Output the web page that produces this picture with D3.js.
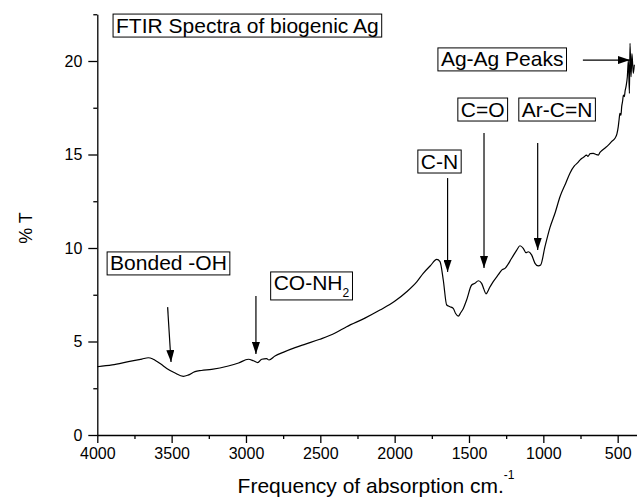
<html>

<head>
    <script src="https://cdnjs.cloudflare.com/ajax/libs/d3/7.8.5/d3.min.js"></script>
    <style>
        body { margin: 0; background: #fff; }
        text { font-family: "Liberation Sans", Arial, sans-serif; fill: #000; }
    </style>
</head>

<body>
    <script>
        // spectrum: wavenumber (cm-1) and %T
        var wavenumber = [4000, 3900, 3791, 3700, 3657, 3630, 3612, 3570, 3533, 3480, 3421, 3390, 3343, 3300, 3231, 3119, 3050,
            2984, 2950, 2921, 2894, 2861, 2845, 2805, 2750, 2670, 2600, 2503, 2400, 2323, 2200, 2099, 2000, 1919, 1850, 1808,
            1760, 1717, 1695, 1673, 1650, 1628, 1606, 1590, 1572, 1555, 1538, 1516, 1482, 1460, 1437, 1415, 1400, 1386, 1360,
            1337, 1300, 1280, 1258, 1213, 1179, 1157, 1135, 1117, 1101, 1079, 1056, 1034, 1018, 989, 955, 920, 888, 850, 821,
            790, 770, 754, 740, 730, 709, 700, 685, 664, 645, 630, 620, 608, 585, 563, 540, 518, 505, 496, 490, 485, 478, 473,
            466, 462, 455, 450, 444, 435, 428, 421, 417, 410, 404, 395, 388];
        var transmittance = [3.65, 3.75, 3.92, 4.06, 4.13, 4.08, 4.0, 3.78, 3.56, 3.33, 3.14, 3.2, 3.39, 3.45, 3.51, 3.69, 3.85,
            4.05, 3.97, 3.87, 4.05, 4.08, 4.01, 4.22, 4.42, 4.67, 4.86, 5.12, 5.45, 5.79, 6.25, 6.68, 7.15, 7.66, 8.2, 8.64,
            9.05, 9.39, 9.27, 8.29, 6.95, 6.86, 6.77, 6.5, 6.36, 6.55, 6.77, 7.22, 8.02, 8.11, 8.25, 8.11, 7.8, 7.55, 7.9,
            8.2, 8.6, 8.82, 8.91, 9.45, 9.89, 10.12, 9.98, 9.75, 9.8, 9.63, 9.18, 9.04, 9.09, 10.07, 11.1, 11.9, 12.74, 13.45, 14.0,
            14.4, 14.55, 14.7, 14.8, 14.85, 14.97, 14.9, 15.05, 15.06, 15.0, 14.97, 15.1, 15.2, 15.35, 15.5, 15.7, 15.87, 16.1, 16.49, 16.9, 17.2, 17.1, 17.56,
            17.9, 18.18, 18.1, 18.4, 18.63, 19.16, 20.05, 18.27, 20.94, 19.16, 20.4, 19.34, 19.8];

        var xTicks = [4000, 3500, 3000, 2500, 2000, 1500, 1000, 500];
        var xMinor = [3750, 3250, 2750, 2250, 1750, 1250, 750];
        var yTicks = [0, 5, 10, 15, 20];
        var yMinor = [2.5, 7.5, 12.5, 17.5, 22.5];

        // labels: left edge / top edge of the box in data units
        var labelText = ["FTIR Spectra of biogenic Ag", "Ag-Ag Peaks", "C=O", "Ar-C=N", "C-N", "Bonded -OH", "CO-NH"];
        var labelSub = ["", "", "", "", "", "", "2"];
        var labelX = [3894, 1709, 1575, 1165, 1844, 3934, 2834];
        var labelY = [22.51, 20.7, 18.02, 18.02, 15.24, 9.79, 8.72];

        // arrows: from (x1,y1) to (x2,y2)
        var arrowX1 = [734, 1644, 1399, 1038, 3527, 2933];
        var arrowY1 = [20.05, 13.74, 16.15, 15.61, 6.84, 7.43];
        var arrowX2 = [417, 1644, 1399, 1038, 3504, 2933];
        var arrowY2 = [20.05, 8.72, 8.93, 9.89, 3.9, 4.33];

        (function () {
            var w = 637, h = 499;
            var mLeft = 97.3, mRight = 637, mTop = 14.25, mBottom = 435;

            var svg = d3.select("body").append("svg")
                .attr("width", w)
                .attr("height", h);

            var x = d3.scaleLinear().domain([4000, 370]).range([mLeft, mRight]);
            var y = d3.scaleLinear().domain([0, 22.5]).range([mBottom, mTop]);

            // axes
            svg.append("g").attr("transform", "translate(0," + mBottom + ")")
                .call(d3.axisBottom(x).tickValues(xTicks).tickFormat(d3.format("d"))
                    .tickSize(8).tickPadding(5).tickSizeOuter(0));
            svg.append("g").attr("transform", "translate(0," + mBottom + ")")
                .call(d3.axisBottom(x).tickValues(xMinor).tickSize(4).tickFormat("").tickSizeOuter(0))
                .select(".domain").remove();

            svg.append("g").attr("transform", "translate(" + mLeft + ",0)")
                .call(d3.axisLeft(y).tickValues(yTicks).tickFormat(d3.format("d"))
                    .tickSize(9).tickPadding(6).tickSizeOuter(0));
            svg.append("g").attr("transform", "translate(" + mLeft + ",0)")
                .call(d3.axisLeft(y).tickValues(yMinor).tickSize(4).tickFormat("").tickSizeOuter(0))
                .select(".domain").remove();

            svg.selectAll(".domain, .tick line").attr("stroke", "#000").attr("stroke-width", 1.3);
            svg.selectAll(".tick text")
                .style("font-family", '"Liberation Sans", Arial, sans-serif')
                .style("font-size", "16px")
                .attr("fill", "#000");

            // axis titles
            var xt = svg.append("text")
                .attr("x", 376)
                .attr("y", 493)
                .attr("text-anchor", "middle")
                .style("font-size", "21px")
                .text("Frequency of absorption cm.");
            xt.append("tspan")
                .attr("dy", -14)
                .style("font-size", "12px")
                .text("-1");

            svg.append("text")
                .attr("transform", "translate(32,228) rotate(-90)")
                .attr("text-anchor", "middle")
                .style("font-size", "18px")
                .text("% T");

            // spectrum
            var pts = wavenumber.map(function (d, i) { return [d, transmittance[i]]; });
            var line = d3.line()
                .x(function (d) { return x(d[0]); })
                .y(function (d) { return y(d[1]); })
                .curve(d3.curveMonotoneX);

            svg.append("path")
                .datum(pts)
                .attr("fill", "none")
                .attr("stroke", "#000")
                .attr("stroke-width", 1.2)
                .attr("d", line);

            // arrows
            svg.append("defs").append("marker")
                .attr("id", "head")
                .attr("viewBox", "0 0 12 8")
                .attr("refX", 12)
                .attr("refY", 4)
                .attr("markerWidth", 12)
                .attr("markerHeight", 8)
                .attr("markerUnits", "userSpaceOnUse")
                .attr("orient", "auto")
                .append("path")
                .attr("d", "M0,0 L12,4 L0,8 Z")
                .attr("fill", "#000");

            arrowX1.forEach(function (d, i) {
                svg.append("line")
                    .attr("x1", x(d))
                    .attr("y1", y(arrowY1[i]))
                    .attr("x2", x(arrowX2[i]))
                    .attr("y2", y(arrowY2[i]))
                    .attr("stroke", "#000")
                    .attr("stroke-width", 1.2)
                    .attr("marker-end", "url(#head)");
            });

            // label boxes
            labelText.forEach(function (t, i) {
                var g = svg.append("g");
                var tx = g.append("text")
                    .attr("x", x(labelX[i]) + 3)
                    .attr("y", y(labelY[i]) + 18.5)
                    .style("font-size", "21px")
                    .text(t);
                if (labelSub[i]) {
                    tx.append("tspan")
                        .attr("dy", 7)
                        .style("font-size", "12px")
                        .text(labelSub[i]);
                }
                var bb = tx.node().getBBox();
                g.insert("rect", "text")
                    .attr("x", bb.x - 3)
                    .attr("y", y(labelY[i]))
                    .attr("width", bb.width + 6)
                    .attr("height", labelSub[i] ? 28 : 23)
                    .attr("fill", "#fff")
                    .attr("stroke", "#000")
                    .attr("stroke-width", 1);
            });
        })();
    </script>
</body>

</html>
